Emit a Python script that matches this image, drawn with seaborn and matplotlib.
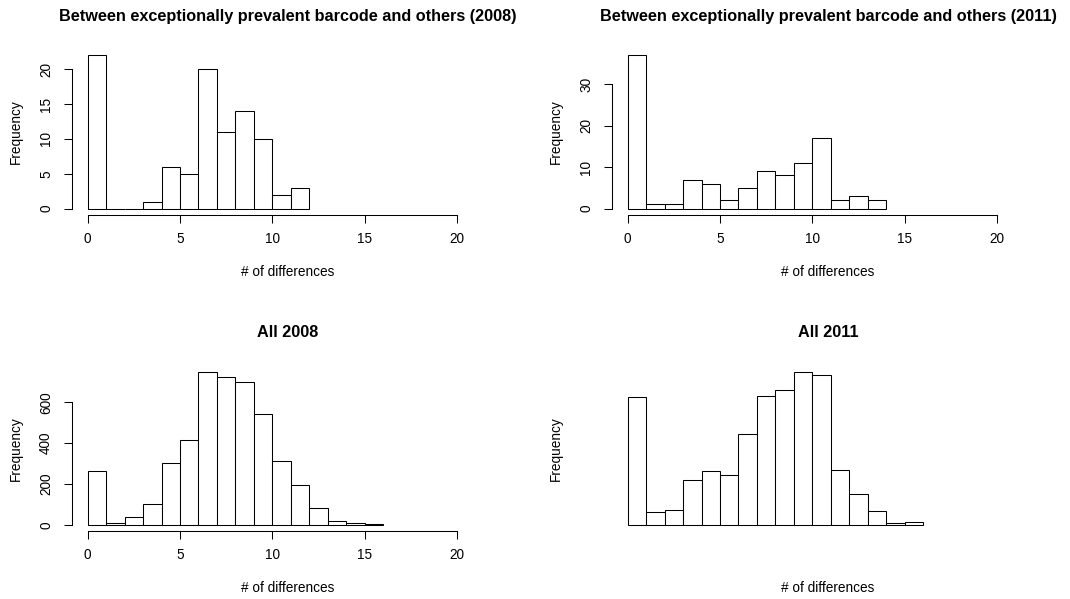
import numpy as np
import pandas as pd
import matplotlib
matplotlib.use("Agg")
import matplotlib.pyplot as plt
import seaborn as sns

# ---- data (counts per unit-width bin starting at 0) ----
prev2008_counts = [22, 0, 0, 1, 6, 5, 20, 11, 14, 10, 2, 3]
prev2011_counts = [37, 1, 1, 7, 6, 2, 5, 9, 8, 11, 17, 2, 3, 2]
all2008_counts = [263, 8, 39, 101, 301, 417, 750, 726, 698, 543, 311, 195, 85, 21, 8, 3]
all2011_counts = [627, 65, 75, 222, 266, 242, 443, 629, 660, 750, 732, 270, 152, 70, 10, 15]

titles = [
    "Between exceptionally prevalent barcode and others (2008)",
    "Between exceptionally prevalent barcode and others (2011)",
    "All 2008",
    "All 2011",
]
x_ticks = [0, 5, 10, 15, 20]
y_ticks = [[0, 5, 10, 15, 20], [0, 10, 20, 30], [0, 200, 400, 600], None]
xlabel = "# of differences"
ylabel = "Frequency"

sns.set_style("ticks")
plt.rcParams["font.family"] = ["Liberation Sans", "DejaVu Sans"]
plt.rcParams["text.color"] = "black"
plt.rcParams["axes.labelcolor"] = "black"

W, H = 1070, 599
fig = plt.figure(figsize=(W / 100, H / 100), dpi=100)


def rect(left, top, w, h):
    return [left / W, 1 - (top + h) / H, w / W, h / H]


col_left = [71.7, 611.7]
row_top = [49.3, 365.6]
pw, ph = 432.6, 165.4
XMAX = 21.7

series = [prev2008_counts, prev2011_counts, all2008_counts, all2011_counts]
FS = 9.8
LW = 0.75

for i, counts in enumerate(series):
    r, c = divmod(i, 2)
    ax = fig.add_axes(rect(col_left[c], row_top[r], pw, ph))
    counts = np.asarray(counts, dtype=float)
    n = len(counts)
    df = pd.DataFrame({"diff": np.arange(n) + 0.5, "count": counts})
    sns.histplot(data=df, x="diff", weights="count", binwidth=1, binrange=(0, n),
                 ax=ax, color="white", edgecolor="black", linewidth=LW, alpha=1)
    mx = counts.max()
    ax.set_xlim(-0.04 * XMAX, 1.04 * XMAX)
    ax.set_ylim(-0.04 * mx, 1.04 * mx)
    ax.set_facecolor("white")
    for s in ["top", "right"]:
        ax.spines[s].set_visible(False)
    if y_ticks[i] is not None:
        ax.set_xticks(x_ticks)
        ax.set_yticks(y_ticks[i])
        ax.spines["bottom"].set_bounds(x_ticks[0], x_ticks[-1])
        ax.spines["left"].set_bounds(y_ticks[i][0], y_ticks[i][-1])
        for s in ["bottom", "left"]:
            ax.spines[s].set_linewidth(LW)
            ax.spines[s].set_color("black")
        ax.tick_params(axis="both", length=5.8, width=LW, color="black",
                       labelsize=FS, labelcolor="black")
        ax.tick_params(axis="x", pad=6.5)
        ax.tick_params(axis="y", pad=7.5, labelrotation=90)
        for lab in ax.get_yticklabels():
            lab.set_va("center")
    else:
        ax.set_xticks([])
        ax.set_yticks([])
        for s in ["bottom", "left"]:
            ax.spines[s].set_visible(False)
    ax.set_title(titles[i], fontsize=11.7, fontweight="bold", y=1.173,
                 va="baseline", pad=0, color="black")
    ax.set_xlabel(xlabel, fontsize=FS, va="baseline", color="black")
    ax.xaxis.set_label_coords(0.5, -0.371)
    ax.set_ylabel(ylabel, fontsize=FS, va="center", color="black")
    ax.yaxis.set_label_coords(-0.130, 0.5)

fig.savefig("out.png", dpi=100, facecolor="white")
